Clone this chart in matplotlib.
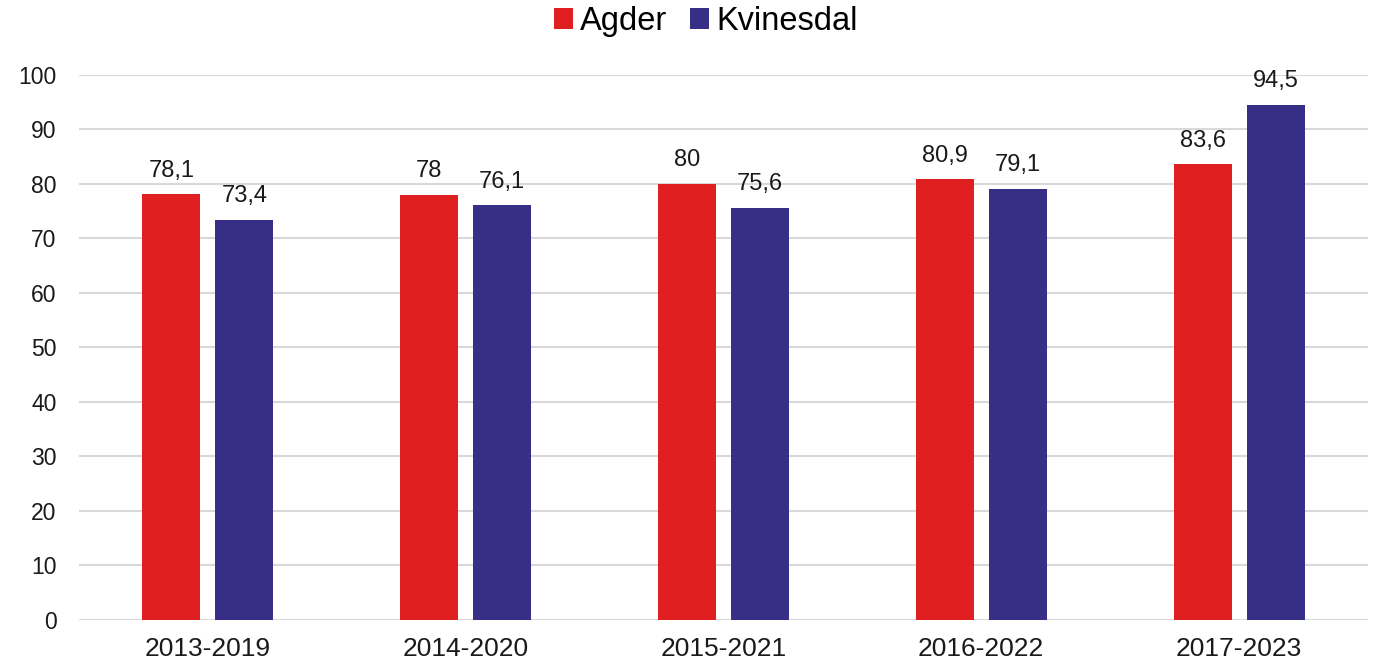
import matplotlib.pyplot as plt
import numpy as np

plt.rcParams['font.family'] = ['Liberation Sans', 'DejaVu Sans']

periods = ["2013-2019", "2014-2020", "2015-2021", "2016-2022", "2017-2023"]
agder = [78.1, 78, 80, 80.9, 83.6]
kvinesdal = [73.4, 76.1, 75.6, 79.1, 94.5]
series_names = ["Agder", "Kvinesdal"]
colors = ["#e02020", "#372e87"]


def fmt(v):
    s = ("%.1f" % v).rstrip("0").rstrip(".")
    return s.replace(".", ",")


fig = plt.figure(figsize=(13.78, 6.63), dpi=100)
ax = fig.add_axes([0.0573, 0.0649, 0.9354, 0.8221])

x = np.arange(len(periods))
w = 0.225
off = (w + 0.058) / 2

for i, (vals, name) in enumerate(zip([agder, kvinesdal], series_names)):
    pos = x - off if i == 0 else x + off
    bars = ax.bar(pos, vals, width=w, color=colors[i], label=name, zorder=3)
    for b, v in zip(bars, vals):
        ax.annotate(fmt(v), (b.get_x() + b.get_width() / 2, v),
                    xytext=(0, 9), textcoords="offset points",
                    ha="center", va="bottom", fontsize=17, color="#1a1a1a")

ax.set_xlim(-0.5, len(periods) - 0.5)
ax.set_ylim(0, 100)
ax.set_yticks(range(0, 101, 10))
ax.set_xticks(x)
ax.set_xticklabels(periods)
ax.tick_params(axis="both", length=0, colors="#1a1a1a")
ax.tick_params(axis="y", pad=16, labelsize=16.5)
ax.tick_params(axis="x", pad=12, labelsize=19)
ax.grid(axis="y", color="#d9d9d9", linewidth=1.5, zorder=0)
for s in ax.spines.values():
    s.set_visible(False)

fig.legend(loc="upper center", bbox_to_anchor=(0.512, 1.035), ncol=2, frameon=False,
           fontsize=23.5, handlelength=0.6, handleheight=0.6, handletextpad=0.2,
           columnspacing=0.7)

fig.savefig("out.png", dpi=100)
